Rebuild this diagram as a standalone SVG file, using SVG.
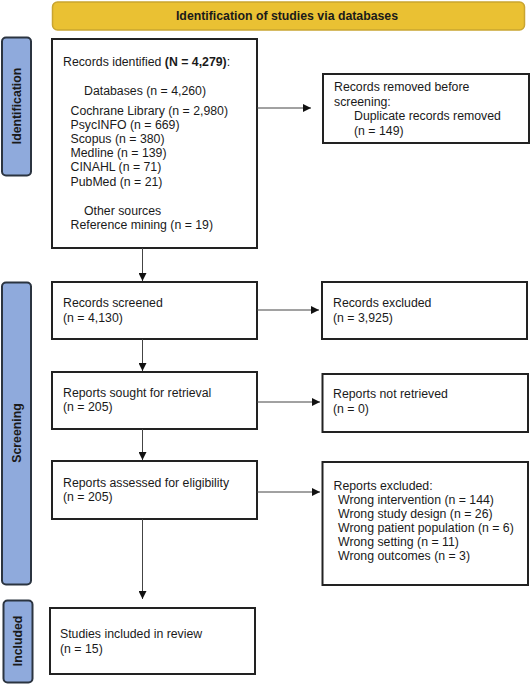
<svg xmlns="http://www.w3.org/2000/svg" width="531" height="685" viewBox="0 0 531 685">
<defs>
<marker id="ah" viewBox="0 0 10 10" refX="10" refY="5" markerWidth="8" markerHeight="8" markerUnits="userSpaceOnUse" orient="auto"><path d="M0,0 L10,5 L0,10 z" fill="#111"/></marker>
<style>
.box{fill:#fff;stroke:#222;stroke-width:2}
.t{font-family:"Liberation Sans",Arial,sans-serif;font-size:12.3px;fill:#1a1a1a}
.b{font-weight:bold}
.side{fill:#8FAADC;stroke:#2b3440;stroke-width:2}
.lab{font-family:"Liberation Sans",Arial,sans-serif;font-size:12.3px;font-weight:bold;fill:#1a1a1a;text-anchor:middle}
.c{stroke:#444;stroke-width:1;fill:none;marker-end:url(#ah)}
</style>
</defs>
<rect width="531" height="685" fill="#fff"/>
<g id="banner">
<rect x="52.5" y="2" width="472" height="28" rx="5" fill="#EAC133" stroke="#C9A531" stroke-width="1.5"/>
<text class="lab" x="287" y="20">Identification of studies via databases</text>
</g>
<g id="lab-identification">
<rect class="side" x="2" y="37.5" width="29" height="138" rx="4"/>
<text class="lab" transform="translate(20.5,106) rotate(-90)">Identification</text>
</g>
<g id="lab-screening">
<rect class="side" x="2" y="282.5" width="29" height="302" rx="4"/>
<text class="lab" transform="translate(20.5,433) rotate(-90)">Screening</text>
</g>
<g id="lab-included">
<rect class="side" x="3.5" y="600.5" width="29" height="82" rx="4"/>
<text class="lab" transform="translate(22,641) rotate(-90)">Included</text>
</g>
<g id="identified">
<rect class="box" x="52" y="39" width="205" height="209"/>
<text class="t" x="63" y="66">Records identified <tspan class="b">(N = 4,279)</tspan>:</text>
<text class="t" x="84" y="95">Databases (n = 4,260)</text>
<text class="t" x="70.5" y="115">Cochrane Library (n = 2,980)</text>
<text class="t" x="70.5" y="129">PsycINFO (n = 669)</text>
<text class="t" x="70.5" y="143">Scopus (n = 380)</text>
<text class="t" x="70.5" y="157">Medline (n = 139)</text>
<text class="t" x="70.5" y="171">CINAHL (n = 71)</text>
<text class="t" x="70.5" y="186">PubMed (n = 21)</text>
<text class="t" x="84" y="215">Other sources</text>
<text class="t" x="70.5" y="229">Reference mining (n = 19)</text>
</g>
<g id="removed">
<rect class="box" x="323" y="74" width="206" height="69"/>
<text class="t" x="334" y="91">Records removed before</text>
<text class="t" x="334" y="105.5">screening:</text>
<text class="t" x="354" y="120">Duplicate records removed</text>
<text class="t" x="354" y="134.5">(n = 149)</text>
</g>
<g id="screened">
<rect class="box" x="52" y="282" width="205" height="57"/>
<text class="t" x="63" y="307">Records screened</text>
<text class="t" x="63" y="322">(n = 4,130)</text>
</g>
<g id="excluded">
<rect class="box" x="322" y="282" width="205" height="57"/>
<text class="t" x="333" y="307">Records excluded</text>
<text class="t" x="333" y="322">(n = 3,925)</text>
</g>
<g id="sought">
<rect class="box" x="52" y="372" width="205" height="57"/>
<text class="t" x="63" y="397">Reports sought for retrieval</text>
<text class="t" x="63" y="411">(n = 205)</text>
</g>
<g id="notretrieved">
<rect class="box" x="322.5" y="374" width="205.5" height="58"/>
<text class="t" x="333" y="398">Reports not retrieved</text>
<text class="t" x="333" y="413">(n = 0)</text>
</g>
<g id="assessed">
<rect class="box" x="52" y="461" width="205" height="58"/>
<text class="t" x="63" y="487">Reports assessed for eligibility</text>
<text class="t" x="63" y="501">(n = 205)</text>
</g>
<g id="reportsexcluded">
<rect class="box" x="322.5" y="462" width="205.5" height="123"/>
<text class="t" x="333.5" y="490">Reports excluded:</text>
<text class="t" x="338" y="504">Wrong intervention (n = 144)</text>
<text class="t" x="338" y="518">Wrong study design (n = 26)</text>
<text class="t" x="338" y="532">Wrong patient population (n = 6)</text>
<text class="t" x="338" y="546">Wrong setting (n = 11)</text>
<text class="t" x="338" y="560">Wrong outcomes (n = 3)</text>
</g>
<g id="included">
<rect class="box" x="50" y="608" width="205" height="66"/>
<text class="t" x="60" y="638">Studies included in review</text>
<text class="t" x="60" y="653">(n = 15)</text>
</g>
<g id="connectors">
<path class="c" d="M257,108 H311"/>
<path class="c" d="M142.5,248 V281"/>
<path class="c" d="M257,310 H319"/>
<path class="c" d="M142.5,339 V371"/>
<path class="c" d="M257,402 H320"/>
<path class="c" d="M142.5,429 V460"/>
<path class="c" d="M257,492 H320"/>
<path class="c" d="M142.5,519 V599"/>
</g>
</svg>
